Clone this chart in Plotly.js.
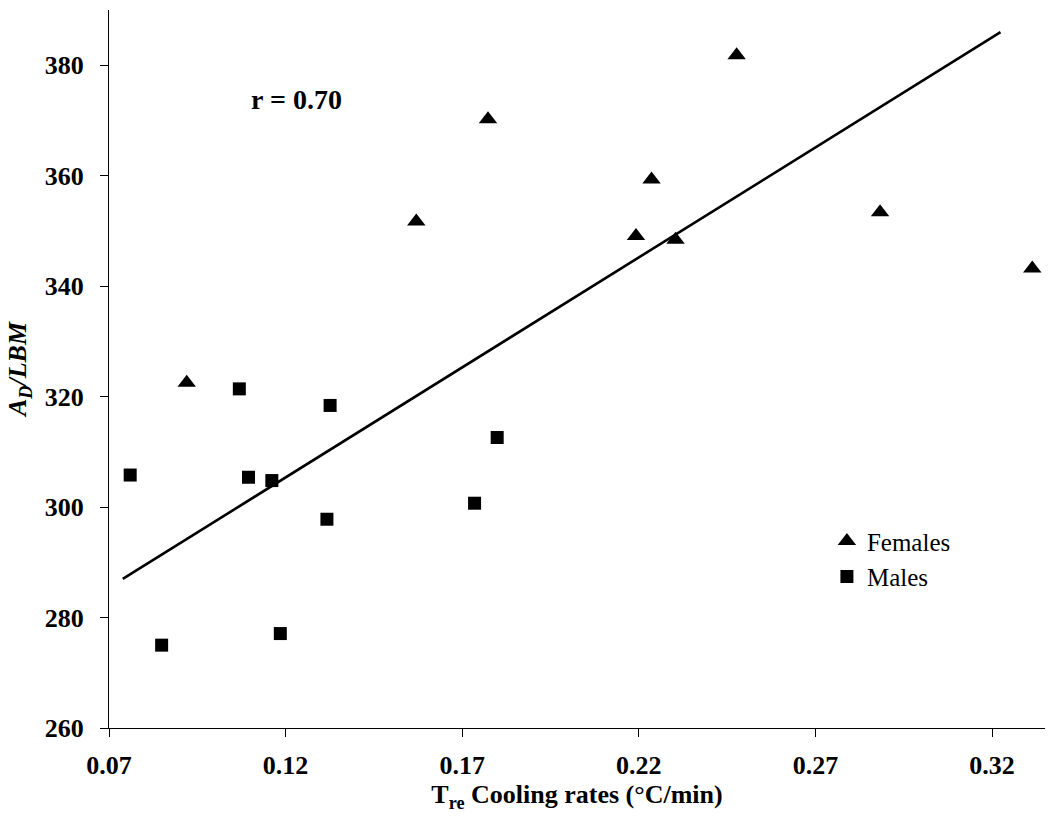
<!DOCTYPE html>
<html>
<head>
<meta charset="utf-8">
<script src="https://cdn.plot.ly/plotly-3.0.1.min.js"></script>
<style>
  html, body { margin: 0; padding: 0; background: #fff; }
  #chart { width: 1051px; height: 821px; }
</style>
</head>
<body>
<div id="chart"></div>
<script>
// Females (triangles)
const femalesX = [0.092, 0.157, 0.1773, 0.2192, 0.2236, 0.2304, 0.2477, 0.2883, 0.3314];
const femalesY = [322.5, 351.7, 370.2, 349.1, 359.3, 348.4, 381.8, 353.4, 343.2];
// Males (squares)
const malesX = [0.0760, 0.0849, 0.1069, 0.1095, 0.1161, 0.1185, 0.1326, 0.1317, 0.1799, 0.1735];
const malesY = [305.8, 275.0, 321.4, 305.4, 304.8, 277.1, 318.4, 297.8, 312.6, 300.7];
// Regression line end points
const fitX = [0.0739, 0.3224];
const fitY = [287.0, 386.0];
// Axis ticks
const xTicks = [0.07, 0.12, 0.17, 0.22, 0.27, 0.32];
const xTickLabels = ["0.07", "0.12", "0.17", "0.22", "0.27", "0.32"];
const yTicks = [260, 280, 300, 320, 340, 360, 380];
const yTickLabels = ["260", "280", "300", "320", "340", "360", "380"];
const rLabel = "r = 0.70";

const serif = "'Liberation Serif', 'Times New Roman', serif";

const traces = [
  {
    x: fitX, y: fitY, type: "scatter", mode: "lines",
    line: { color: "#000", width: 2.6 },
    showlegend: false, hoverinfo: "skip"
  },
  {
    x: femalesX, y: femalesY, type: "scatter", mode: "markers", name: "Females",
    marker: { symbol: "triangle-up", size: 16, color: "#000" }
  },
  {
    x: malesX, y: malesY, type: "scatter", mode: "markers", name: "Males",
    marker: { symbol: "square", size: 13, color: "#000" }
  }
];

const layout = {
  width: 1051, height: 821,
  paper_bgcolor: "#fff", plot_bgcolor: "#fff",
  margin: { l: 109, r: 6, t: 10, b: 93 },
  font: { family: serif, color: "#000" },
  showlegend: true,
  legend: {
    x: 0.767, y: 0.292, xanchor: "left", yanchor: "top",
    font: { family: serif, size: 25, color: "#000" },
    bgcolor: "rgba(0,0,0,0)", tracegroupgap: 4, itemwidth: 30
  },
  xaxis: {
    range: [0.07, 0.335],
    tickvals: xTicks, ticktext: xTickLabels,
    ticks: "outside", ticklen: 8, tickwidth: 1, tickcolor: "#000",
    showline: true, linecolor: "#000", linewidth: 1,
    showgrid: false, zeroline: false,
    ticklabelstandoff: 6,
    tickfont: { family: serif, size: 26, color: "#000", weight: "bold" },
    title: { text: "<b>T<sub>re</sub> Cooling rates (°C/min)</b>", font: { family: serif, size: 26, color: "#000" }, standoff: 2 }
  },
  yaxis: {
    range: [260, 390],
    tickvals: yTicks, ticktext: yTickLabels,
    ticks: "outside", ticklen: 8, tickwidth: 1, tickcolor: "#000",
    showline: true, linecolor: "#000", linewidth: 1,
    showgrid: false, zeroline: false,
    ticklabelstandoff: 11,
    tickfont: { family: serif, size: 26, color: "#000", weight: "bold" },
    title: { text: "<b><i>A<sub>D</sub>/LBM</i></b>", font: { family: serif, size: 26, color: "#000" }, standoff: 10 }
  },
  annotations: [
    {
      x: 0.123, y: 373.8, xref: "x", yref: "y", text: "<b>" + rLabel + "</b>",
      showarrow: false, font: { family: serif, size: 28, color: "#000" }
    }
  ]
};

Plotly.newPlot("chart", traces, layout, { displayModeBar: false, staticPlot: true });
</script>
</body>
</html>
